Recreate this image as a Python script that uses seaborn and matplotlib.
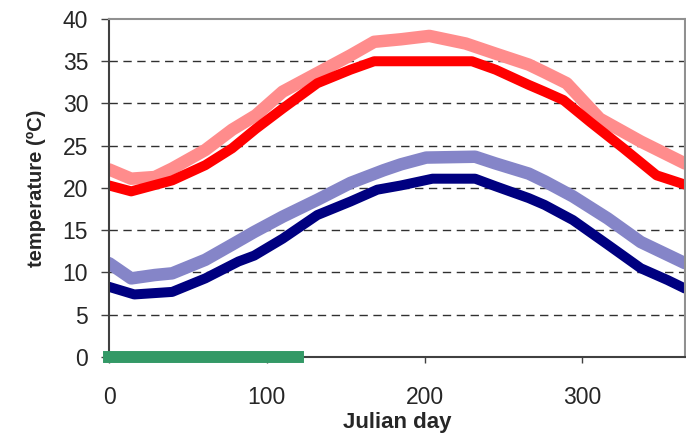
import matplotlib
matplotlib.use("Agg")
import matplotlib.pyplot as plt
import seaborn as sns
import pandas as pd

# ---- data ----
days_max = [0, 14, 40, 61, 78, 93, 110, 132, 153, 168, 200, 230, 245, 266, 276, 288, 305, 326, 347, 365]
tmax = [20.3, 19.6, 20.9, 22.7, 24.7, 27.0, 29.4, 32.4, 34.0, 35.0, 35.0, 35.0, 34.0, 32.2, 31.4, 30.4, 27.8, 24.7, 21.5, 20.4]

days_max2 = [0, 14, 29, 40, 61, 78, 93, 110, 132, 153, 168, 185, 203, 226, 245, 266, 276, 290, 311, 337, 365]
tmax2 = [22.2, 21.1, 21.3, 22.3, 24.5, 26.9, 28.6, 31.4, 33.6, 35.7, 37.3, 37.6, 38.0, 37.1, 35.9, 34.6, 33.7, 32.4, 28.2, 25.5, 22.9]

days_min = [0, 16, 40, 61, 82, 92, 110, 132, 153, 170, 185, 205, 232, 245, 266, 276, 294, 316, 337, 354, 365]
tmin = [8.3, 7.4, 7.7, 9.3, 11.3, 12.0, 14.0, 16.8, 18.4, 19.8, 20.3, 21.1, 21.1, 20.2, 18.8, 18.0, 16.2, 13.3, 10.5, 9.1, 8.1]

days_min2 = [0, 14, 29, 40, 61, 78, 92, 110, 132, 153, 174, 185, 201, 232, 245, 266, 276, 294, 316, 337, 365]
tmin2 = [11.1, 9.3, 9.7, 9.9, 11.5, 13.3, 14.8, 16.6, 18.6, 20.6, 22.1, 22.8, 23.6, 23.7, 22.9, 21.7, 20.8, 19.0, 16.4, 13.6, 11.1]

period_days = [0, 120]
period_level = [0, 0]

yticks = [0, 5, 10, 15, 20, 25, 30, 35, 40]
xticks = [0, 100, 200, 300]

# ---- styling ----
sns.set_theme(style="white")
plt.rcParams["font.family"] = ["Liberation Sans", "DejaVu Sans"]

fig = plt.figure(figsize=(6.86, 4.38), dpi=100)
ax = fig.add_axes([0.159, 0.185, 0.8395, 0.7716])

sns.lineplot(x=days_max2, y=tmax2, ax=ax, color="#ff8c8c", linewidth=9, sort=False)
sns.lineplot(x=days_max, y=tmax, ax=ax, color="#ff0000", linewidth=7.2, sort=False,
             solid_capstyle="round")
sns.lineplot(x=days_min2, y=tmin2, ax=ax, color="#8585c8", linewidth=9, sort=False)
sns.lineplot(x=days_min, y=tmin, ax=ax, color="#000080", linewidth=7.2, sort=False,
             solid_capstyle="round")

bar_line = sns.lineplot(x=period_days, y=period_level, ax=ax, color="#339966",
                        linewidth=8.6, sort=False)
bar_line.lines[-1].set_clip_on(False)
bar_line.lines[-1].set_solid_capstyle("projecting")
bar_line.lines[-1].set_zorder(5)

ax.set_xlim(0, 365)
ax.set_ylim(0, 40)
ax.set_yticks(yticks)
ax.set_xticks(xticks)

for y in yticks[1:-1]:
    ax.axhline(y, color="#303030", linewidth=1.0, linestyle=(0, (6, 4)), zorder=0)

for side in ["left", "bottom"]:
    ax.spines[side].set_color("#404040")
    ax.spines[side].set_linewidth(1.5)
for side in ["top", "right"]:
    ax.spines[side].set_color("#909090")
    ax.spines[side].set_linewidth(1.5)

ax.tick_params(axis="y", direction="out", length=6, width=1, color="#404040",
               labelsize=16.5, pad=9, left=True)
ax.tick_params(axis="x", direction="out", length=4, width=1, color="#404040",
               labelsize=16.5, pad=17, bottom=True)

ax.set_xlabel("Julian day", fontsize=16, fontweight="bold", labelpad=2)
ax.set_ylabel("temperature (ºC)", fontsize=14.5, fontweight="bold", labelpad=12)

fig.savefig("out.png", dpi=100)
